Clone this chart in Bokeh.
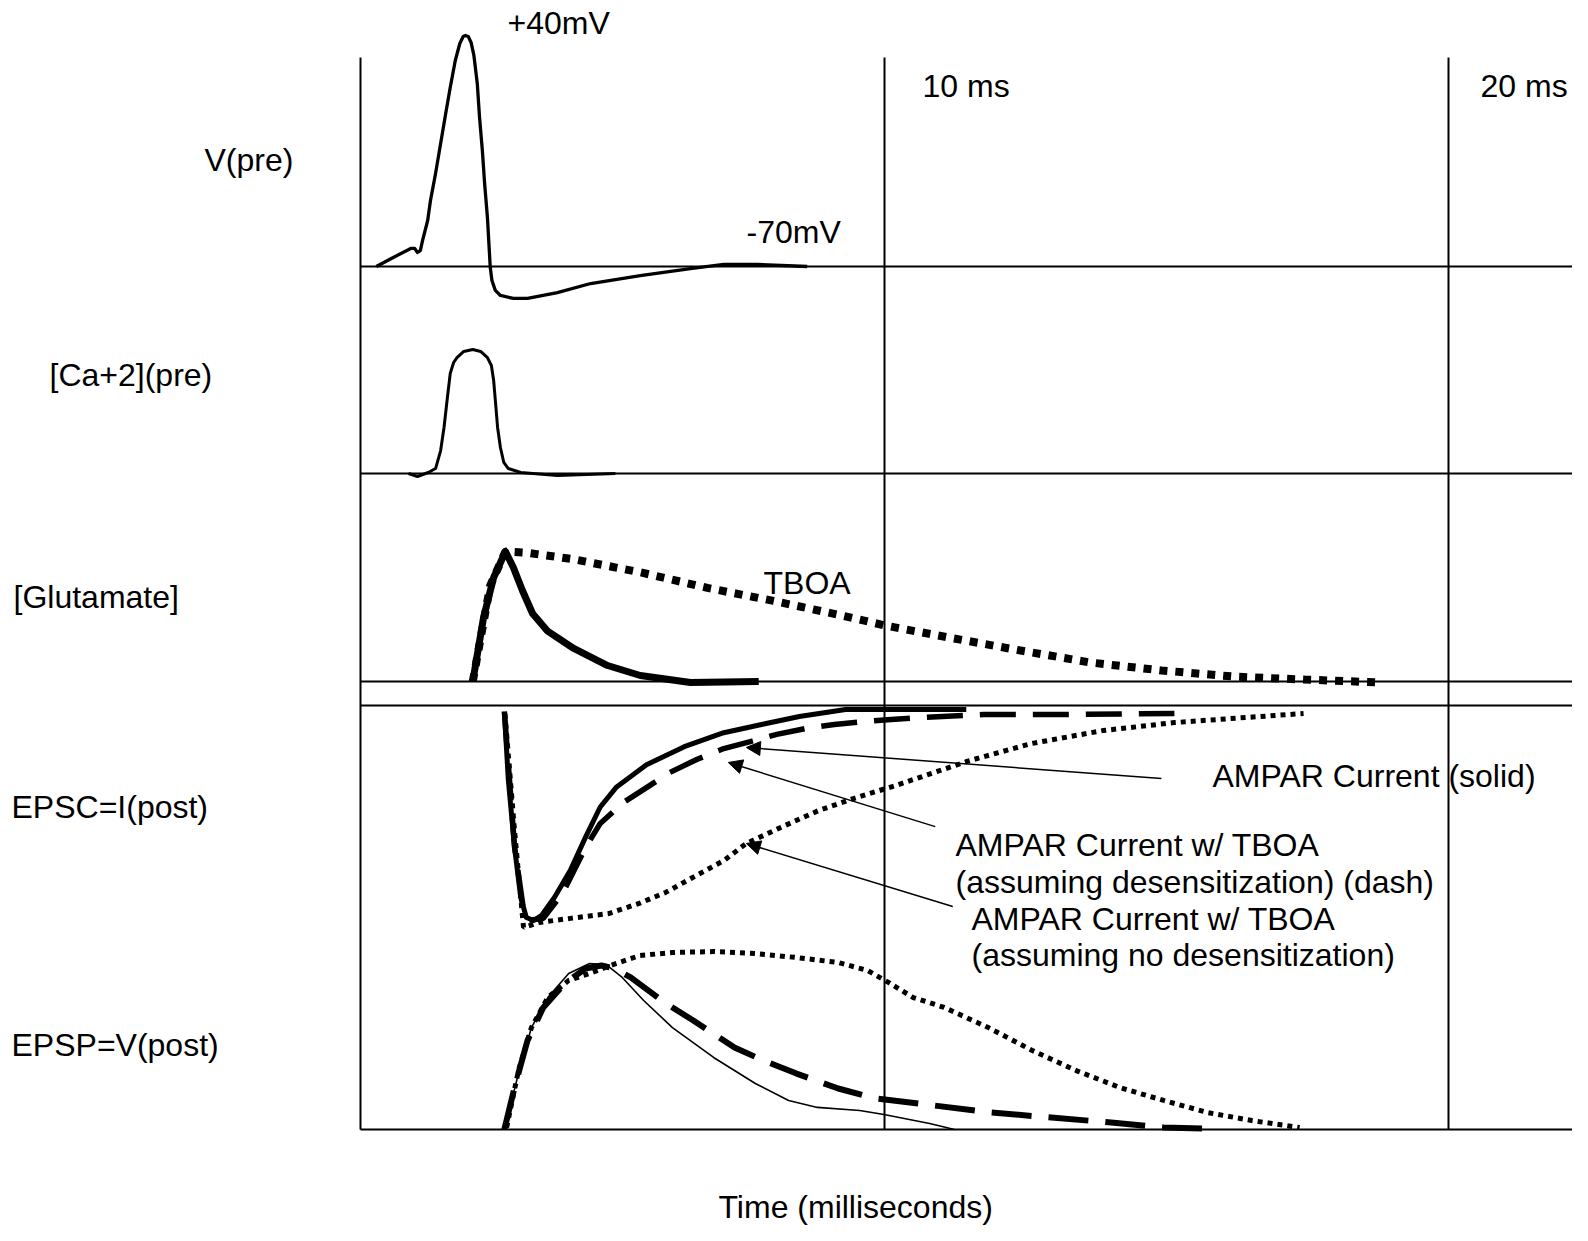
import numpy as np
from bokeh.plotting import figure
from bokeh.models import Range1d, ColumnDataSource, Arrow, NormalHead
from bokeh.core.properties import value
from bokeh.embed import file_html
from bokeh.resources import INLINE

# ---------------- data (time in ms) ----------------
# Presynaptic membrane potential (mV)
VPRE_T = [0.99, 1.29, 1.60, 1.67, 1.72, 1.77, 1.81, 1.90, 1.95, 2.04, 2.13, 2.22, 2.30, 2.39,
          2.47, 2.53, 2.57, 2.62, 2.67, 2.72, 2.78, 2.82, 2.87, 2.91, 2.96, 2.99, 3.01, 3.04,
          3.10, 3.19, 3.42, 3.67, 4.20, 4.79, 5.67, 6.56, 7.15, 7.75, 8.63]
VPRE_MV = [-70, -65.7, -61.4, -61.4, -63.3, -62.4, -57.6, -48.1, -38.6, -25.7, -11.4, 2.9, 15.2,
           28.1, 36.2, 39.5, 40, 39.5, 36.7, 30.5, 17.1, 0.95, -14.8, -30.5, -46.7, -61,
           -70.5, -76.7, -81.4, -83.8, -85.2, -85.2, -82.4, -78.1, -74.3, -71.0, -69.0, -69.0,
           -70]

# Presynaptic calcium (relative)
CA_T = [1.56, 1.72, 1.91, 2.04, 2.13, 2.19, 2.25, 2.30, 2.36, 2.42, 2.54, 2.70, 2.84, 2.96,
        3.03, 3.07, 3.10, 3.14, 3.19, 3.25, 3.33, 3.55, 4.20, 5.23]
CA_REL = [0, -0.024, 0.008, 0.04, 0.185, 0.371, 0.613, 0.806, 0.895, 0.935, 0.984, 1.0, 0.984,
          0.935, 0.871, 0.75, 0.589, 0.371, 0.21, 0.089, 0.04, 0.008, -0.016, 0]

# Cleft glutamate (relative): control and with TBOA
GLU_T = [2.70, 2.89, 3.07, 3.28, 3.42, 3.58, 3.76, 4.02, 4.49, 5.09, 5.67, 6.56, 7.77]
GLU_REL = [0, 0.49, 0.80, 1.0, 0.877, 0.70, 0.523, 0.39, 0.254, 0.123, 0.046, -0.008, 0]
GLU_TBOA_T = [2.70, 3.01, 3.28, 3.67, 4.49, 5.67, 6.86, 8.03, 9.22, 10.02, 11.12, 12.39,
              13.65, 14.91, 16.19, 17.45, 18.81]
GLU_TBOA_REL = [0, 0.74, 1.0, 0.99, 0.94, 0.84, 0.72, 0.62, 0.51, 0.43, 0.34, 0.24,
                0.146, 0.085, 0.038, 0.015, -0.008]

# EPSC (relative, inward negative)
EPSC_T = [3.26, 3.33, 3.44, 3.55, 3.65, 3.78, 3.92, 4.15, 4.43, 4.70, 4.96, 5.25, 5.78,
          6.45, 7.15, 7.82, 8.49, 9.31, 11.45]
EPSC_REL = [-0.01, -0.333, -0.652, -0.890, -0.986, -1.0, -0.976, -0.890, -0.762, -0.605,
            -0.462, -0.367, -0.262, -0.176, -0.110, -0.071, -0.033, 0.0, 0.0]
EPSC_DES_T = [3.26, 3.44, 3.60, 3.68, 3.95, 4.29, 4.70, 4.96, 5.37, 5.78, 6.19, 6.67, 7.15,
              7.62, 8.09, 8.60, 9.11, 9.65, 10.12, 10.67, 11.76, 13.03, 15.14]
EPSC_DES_REL = [-0.01, -0.65, -0.95, -1.0, -0.99, -0.872, -0.654, -0.540, -0.441, -0.370,
                -0.299, -0.237, -0.185, -0.152, -0.118, -0.090, -0.071, -0.057, -0.047,
                -0.038, -0.024, -0.024, -0.019]
EPSC_NODES_T = [3.27, 3.44, 3.55, 3.60, 3.88, 4.43, 5.11, 5.65, 6.12, 6.60, 7.15, 7.55, 8.16,
                8.83, 9.45, 10.20, 11.51, 12.61, 13.87, 15.14, 16.40, 17.43]
EPSC_NODES_REL = [-0.02, -0.573, -0.891, -1.033, -1.009, -0.990, -0.967, -0.919, -0.867,
                  -0.796, -0.716, -0.635, -0.559, -0.479, -0.422, -0.360, -0.242, -0.161,
                  -0.100, -0.062, -0.038, -0.019]

# EPSP (relative)
EPSP_T = [3.26, 3.51, 3.74, 4.03, 4.40, 4.77, 5.06, 5.35, 5.73, 6.24, 6.97, 7.71, 8.30,
          8.81, 9.56, 9.99, 10.80, 11.24]
EPSP_REL = [0, 0.337, 0.614, 0.795, 0.940, 1.0, 0.994, 0.916, 0.777, 0.614, 0.434, 0.277,
            0.175, 0.133, 0.114, 0.090, 0.036, 0]
EPSP_DES_T = [3.26, 3.44, 3.67, 3.95, 4.33, 4.70, 4.98, 5.21, 5.50, 6.10, 6.61, 7.34, 7.85,
              8.44, 9.18, 9.84, 10.87, 11.90, 12.96, 14.02, 14.95, 15.73]
EPSP_DES_REL = [0, 0.253, 0.536, 0.735, 0.880, 0.970, 0.988, 0.970, 0.916, 0.765, 0.657,
                0.494, 0.416, 0.337, 0.247, 0.187, 0.145, 0.102, 0.072, 0.042, 0.012, 0.006]
EPSP_NODES_T = [3.30, 3.51, 3.74, 4.03, 4.40, 4.77, 5.14, 5.66, 6.24, 6.97, 7.71, 8.44, 9.18,
                9.70, 10.07, 10.51, 11.06, 11.84, 12.62, 13.40, 14.17, 14.95, 15.73, 16.51,
                17.36]
EPSP_NODES_REL = [0.012, 0.355, 0.614, 0.795, 0.898, 0.940, 0.988, 1.048, 1.066, 1.072,
                  1.060, 1.036, 1.006, 0.958, 0.886, 0.795, 0.735, 0.614, 0.476, 0.355,
                  0.253, 0.175, 0.102, 0.054, 0.012]

# Annotation arrows in EPSC units (start -> tip)
ARROW_T0 = [14.91, 10.90, 11.21]
ARROW_V0 = [-0.327, -0.555, -0.934]
ARROW_T1 = [7.55, 7.23, 7.55]
ARROW_V1 = [-0.180, -0.251, -0.635]

TIME_MARKS_MS = [10, 20]
TIME_MARK_LABELS = ["10 ms", "20 ms"]

ROW_LABELS = ["V(pre)", "[Ca+2](pre)", "[Glutamate]", "EPSC=I(post)", "EPSP=V(post)"]

# ---------------- layout (picture pixels) ----------------
W, H = 1572, 1225
PAGE_X0, PAGE_Y0 = 0, 0
PX_PER_MS = 56.4
X_AT_10MS = 884
LEFT_PX = 360
TOP_PX = 57
BOTTOM_PX = 1129
RIGHT_PX = 1600
TEXT_DY = -11   # compensation of the renderer's baseline placement

def ms_at(px):
    return 10 + (px - X_AT_10MS) / PX_PER_MS

def panel_range(v_base, base_px, px_per_unit):
    return Range1d(start=v_base + (base_px - (PAGE_Y0 + H)) / px_per_unit,
                   end=v_base + (base_px - PAGE_Y0) / px_per_unit)

p = figure(width=W, height=H, output_backend="svg", toolbar_location=None,
           x_range=Range1d(ms_at(PAGE_X0), ms_at(PAGE_X0 + W)),
           y_range=Range1d(PAGE_Y0 + H, PAGE_Y0),
           x_axis_location=None, y_axis_location=None, min_border=0,
           outline_line_color=None, background_fill_color="white",
           border_fill_color="white")
p.grid.visible = False

p.extra_x_ranges = {"px": Range1d(PAGE_X0, PAGE_X0 + W)}
p.extra_y_ranges = {
    "vpre": panel_range(-70, 266, 2.1),
    "ca": panel_range(0, 473, 124),
    "glu": panel_range(0, 681, 130),
    "epsc": panel_range(0, 709, 211),
    "epsp": panel_range(0, 1129, 166),
}

# frame lines
hy = [266, 473, 681, 705, BOTTOM_PX]
p.segment(x0=[LEFT_PX] * len(hy), y0=hy, x1=[RIGHT_PX] * len(hy), y1=hy,
          x_range_name="px", line_color="black", line_width=2)
p.segment(x0=[LEFT_PX], y0=[TOP_PX], x1=[LEFT_PX], y1=[BOTTOM_PX],
          x_range_name="px", line_color="black", line_width=2)
p.segment(x0=TIME_MARKS_MS, y0=[TOP_PX] * 2, x1=TIME_MARKS_MS, y1=[BOTTOM_PX] * 2,
          line_color="black", line_width=2)

# traces
p.line(VPRE_T, VPRE_MV, y_range_name="vpre", line_color="black", line_width=3.3,
       line_join="round")
p.line(CA_T, CA_REL, y_range_name="ca", line_color="black", line_width=3,
       line_join="round")

p.line(GLU_TBOA_T, GLU_TBOA_REL, y_range_name="glu", line_color="black", line_width=8,
       line_dash="8 8")
p.line(GLU_T, GLU_REL, y_range_name="glu", line_color="black", line_width=7,
       line_join="round")

p.line(EPSC_NODES_T, EPSC_NODES_REL, y_range_name="epsc", line_color="black",
       line_width=5, line_dash="5 5")
p.line(EPSC_DES_T, EPSC_DES_REL, y_range_name="epsc", line_color="black",
       line_width=5.5, line_dash="36 17")
p.line(EPSC_T, EPSC_REL, y_range_name="epsc", line_color="black", line_width=5,
       line_join="round")

p.line(EPSP_NODES_T, EPSP_NODES_REL, y_range_name="epsp", line_color="black",
       line_width=5, line_dash="5 5")
p.line(EPSP_DES_T, EPSP_DES_REL, y_range_name="epsp", line_color="black",
       line_width=6, line_dash="40 17")
p.line(EPSP_T, EPSP_REL, y_range_name="epsp", line_color="black", line_width=1.6,
       line_join="round")

# arrows
arrow_src = ColumnDataSource(dict(x0=ARROW_T0, y0=ARROW_V0, x1=ARROW_T1, y1=ARROW_V1))
p.add_layout(Arrow(source=arrow_src, x_start="x0", y_start="y0", x_end="x1", y_end="y1",
                   y_range_name="epsc", line_color="black", line_width=1.5,
                   end=NormalHead(size=14, fill_color="black", line_color="black",
                                  line_width=1)))

# texts (picture pixel coordinates of the baseline)
texts = ["+40mV", TIME_MARK_LABELS[0], TIME_MARK_LABELS[1], ROW_LABELS[0], "-70mV",
         ROW_LABELS[1], ROW_LABELS[2], "TBOA", ROW_LABELS[3], ROW_LABELS[4],
         "AMPAR Current (solid)", "AMPAR Current w/ TBOA",
         "(assuming desensitization) (dash)", "AMPAR Current w/ TBOA",
         "(assuming no desensitization)", "Time (milliseconds)"]
tx = [507, 922, 1480, 204, 746, 49, 13, 763, 11, 11, 1212, 955, 955, 971, 971, 718]
ty = [33, 96, 96, 170, 242, 385, 607, 593, 817, 1055, 786, 855, 892, 929, 965, 1217]
p.text(x=tx, y=[v + TEXT_DY for v in ty], text=texts, x_range_name="px",
       text_color="black", text_font=value("Liberation Sans"),
       text_font_size=value("32px"), text_baseline="alphabetic", text_align="left")

open("out.html", "w").write(file_html(p, INLINE))
